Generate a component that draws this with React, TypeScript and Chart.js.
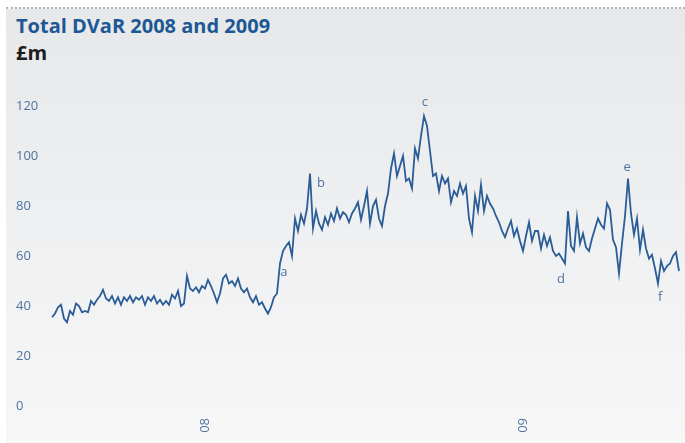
import React, { useEffect, useRef } from 'react';
import { Chart, registerables } from 'chart.js';

Chart.register(...registerables);

// Total DVaR (£m), trading-day samples through 2008 and 2009
const dvar: number[] = [
  35.5, 37, 39.5, 40.5, 35, 33.5, 38, 36.5, 41, 40,
  37.5, 38, 37.5, 42, 40.5, 42.5, 44, 46.5, 43, 42,
  44, 41, 43.5, 40.5, 43.5, 42, 44, 41.5, 43.5, 42.5,
  44, 40.5, 43.5, 42, 44, 41, 42.5, 40.5, 42, 40.5,
  44.5, 43, 46, 40, 41, 52, 47, 46, 47.5, 45.5,
  48, 47, 50.5, 48, 45, 41.5, 45, 51, 52.5, 49,
  50, 48, 51, 47, 45.5, 47, 43.5, 41.5, 44, 40.5,
  41.5, 39, 37, 39.5, 43.5, 45, 57, 62, 64, 65.5,
  60, 75, 70, 76.5, 73, 79, 93, 71, 78, 73,
  70.5, 75.5, 72.5, 77, 74, 79, 75, 77.5, 76.5, 73.5,
  77, 79, 81.5, 74.5, 80, 86, 73, 80, 82.5, 75,
  72, 80, 85, 95, 101, 92, 96, 100, 90, 91,
  87, 103, 99, 108, 116, 112, 102, 92, 93, 86,
  92, 89, 91, 81.5, 86, 84, 89, 85, 88, 75,
  69.5, 84, 78, 88.5, 78, 84, 81, 79, 76, 73.5,
  70, 67.5, 71, 74, 68, 71, 66, 62, 68, 73.5,
  66, 70, 70, 63, 68.5, 64, 67.5, 62, 60, 61,
  59, 57, 78, 64, 62, 75.5, 65, 69, 63.5, 62,
  67, 71, 75, 72.5, 71, 81, 78.5, 66.5, 63.5, 53,
  65, 76, 91, 77, 68.5, 75, 62.5, 70.5, 63, 59,
  60.5, 55, 49, 58, 54, 56, 57, 60, 61.5, 54,
];

const yTickValues = [0, 20, 40, 60, 80, 100, 120];
const yearLabels = ['08', '09'];
const yearMidIndex = [51, 157];

// event markers: letter, sample index, value level where the letter sits
const noteLetters = ['a', 'b', 'c', 'd', 'e', 'f'];
const noteIndex = [77.3, 89.7, 124.3, 169.7, 191.7, 202.7];
const noteLevel = [53.6, 89.2, 121.6, 50.8, 95.6, 43.6];

const LINE = '#2a5d96';
const LABEL = '#4f73a0';
const FONT = '"Open Sans", "Noto Sans", sans-serif';

const notesPlugin = {
  id: 'notes',
  afterDatasetsDraw(chart: any) {
    const { ctx, scales } = chart;
    ctx.save();
    ctx.font = `13px ${FONT}`;
    ctx.fillStyle = LABEL;
    ctx.textAlign = 'center';
    ctx.textBaseline = 'middle';
    noteLetters.forEach((t, k) => {
      ctx.fillText(t, scales.x.getPixelForValue(noteIndex[k]), scales.y.getPixelForValue(noteLevel[k]));
    });
    ctx.restore();
  },
};

export default function App() {
  const ref = useRef<HTMLCanvasElement>(null);

  useEffect(() => {
    document.body.style.margin = '0';
    const chart = new Chart(ref.current!, {
      type: 'line',
      data: {
        datasets: [
          {
            data: dvar.map((v, i) => ({ x: i, y: v })),
            borderColor: LINE,
            borderWidth: 1.8,
            pointRadius: 0,
            tension: 0,
            clip: false as any,
          },
        ],
      },
      options: {
        animation: false,
        responsive: false,
        maintainAspectRatio: false,
        devicePixelRatio: 1,
        layout: { padding: { left: 16, top: 106, right: 6, bottom: 0 } },
        plugins: { legend: { display: false }, tooltip: { enabled: false } },
        scales: {
          x: {
            type: 'linear',
            min: 0,
            max: dvar.length - 1,
            grid: { display: false, drawTicks: false },
            border: { display: false },
            afterBuildTicks: (s: any) => {
              s.ticks = yearMidIndex.map((v) => ({ value: v }));
            },
            afterFit: (s: any) => {
              s.height = 37;
            },
            ticks: {
              autoSkip: false,
              minRotation: 90,
              maxRotation: 90,
              padding: 12,
              color: LABEL,
              font: { family: FONT, size: 13 },
              callback: (v: any) => {
                const k = yearMidIndex.indexOf(Number(v));
                return k >= 0 ? yearLabels[k] : '';
              },
            },
          },
          y: {
            min: 0,
            max: 120,
            grid: { display: false, drawTicks: false },
            border: { display: false },
            afterBuildTicks: (s: any) => {
              s.ticks = yTickValues.map((v) => ({ value: v }));
            },
            afterFit: (s: any) => {
              s.width = 36;
            },
            ticks: {
              crossAlign: 'far',
              padding: 0,
              color: LABEL,
              font: { family: FONT, size: 13 },
            },
          },
        },
      } as any,
      plugins: [notesPlugin],
    });
    return () => chart.destroy();
  }, []);

  return (
    <div style={{ position: 'absolute', left: 0, top: 0, width: 685, height: 443, background: '#ffffff', overflow: 'hidden' }}>
      <div
        style={{
          position: 'absolute',
          left: 6,
          top: 7,
          right: 0,
          bottom: 0,
          background: 'linear-gradient(to bottom, #e7e8ea 0%, #eff0f1 50%, #f7f7f8 100%)',
          borderTop: '2px dotted #b4b6b9',
        }}
      />
      <div
        style={{
          position: 'absolute',
          left: 16,
          top: 16,
          fontFamily: FONT,
          fontWeight: 700,
          fontSize: 20,
          lineHeight: '20px',
          color: '#1d5894',
          whiteSpace: 'nowrap',
        }}
      >
        Total DVaR 2008 and 2009
      </div>
      <div
        style={{
          position: 'absolute',
          left: 16,
          top: 43,
          fontFamily: FONT,
          fontWeight: 700,
          fontSize: 20,
          lineHeight: '20px',
          color: '#1c1c1c',
          whiteSpace: 'nowrap',
        }}
      >
        £m
      </div>
      <canvas
        ref={ref}
        width={685}
        height={443}
        style={{ position: 'absolute', left: 0, top: 0, width: 685, height: 443 }}
      />
    </div>
  );
}
